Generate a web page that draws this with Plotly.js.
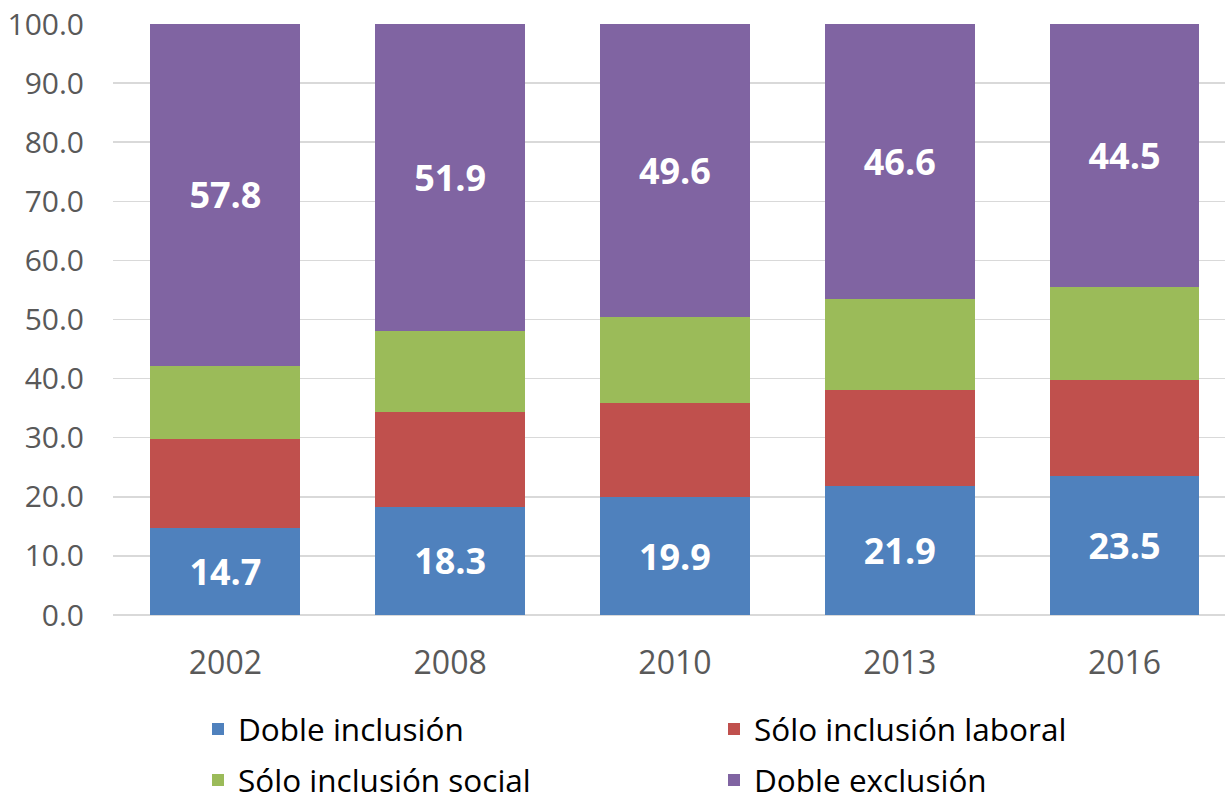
<!DOCTYPE html>
<html>
<head>
<meta charset="utf-8">
<script src="https://cdn.plot.ly/plotly-3.0.1.min.js"></script>
<style>html,body{margin:0;padding:0;background:#fff;}#chart{width:1225px;height:805px;}</style>
</head>
<body>
<div id="chart"></div>
<script>
const years = ["2002", "2008", "2010", "2013", "2016"];
const dobleInclusion = [14.7, 18.3, 19.9, 21.9, 23.5];
const soloLaboral = [15.0, 16.0, 16.0, 16.2, 16.3];
const soloSocial = [12.5, 13.8, 14.5, 15.3, 15.7];
const dobleExclusion = [57.8, 51.9, 49.6, 46.6, 44.5];
const seriesNames = ["Doble inclusión", "Sólo inclusión laboral", "Sólo inclusión social", "Doble exclusión"];
const colors = ["#4F81BD", "#C0504D", "#9BBB59", "#8064A2"];

const FONT = "Open Sans, Noto Sans, sans-serif";
const labelFont = {family: FONT, size: 36, color: "#ffffff", weight: 700};

function bar(y, i, labels, legendId) {
  const t = {
    type: "bar", x: years, y: y, name: seriesNames[i],
    marker: {color: colors[i], line: {width: 0}},
    width: 0.667, legend: legendId, hoverinfo: "y+name"
  };
  if (labels) {
    t.text = y.map(v => v.toFixed(1));
    t.texttemplate = "<b>%{text}</b>";
    t.textposition = "inside";
    t.insidetextanchor = "middle";
    t.textfont = labelFont;
    t.insidetextfont = labelFont;
    t.textangle = 0;
  } else {
    t.textposition = "none";
  }
  return t;
}

const data = [
  bar(dobleInclusion, 0, true, "legend"),
  bar(soloLaboral, 1, false, "legend2"),
  bar(soloSocial, 2, false, "legend3"),
  bar(dobleExclusion, 3, true, "legend4")
];

function leg(xpx, ypx) {
  return {
    orientation: "h", xref: "container", yref: "container",
    xanchor: "left", yanchor: "middle",
    x: xpx / 1225, y: 1 - ypx / 805,
    font: {family: FONT, size: 31.5, color: "#000000"},
    bgcolor: "rgba(0,0,0,0)", itemclick: false
  };
}

const layout = {
  width: 1225, height: 805,
  margin: {l: 113, r: 0, t: 24, b: 190},
  paper_bgcolor: "#ffffff", plot_bgcolor: "#ffffff",
  barmode: "stack",
  showlegend: true,
  legend: leg(198, 729),
  legend2: leg(714, 729),
  legend3: leg(198, 780),
  legend4: leg(714, 780),
  xaxis: {
    type: "category", range: [-0.5, 4.447],
    showgrid: false, zeroline: false, showline: false,
    ticks: "outside", ticklen: 20, tickcolor: "rgba(0,0,0,0)",
    tickfont: {family: FONT, size: 32, color: "#595959"},
    fixedrange: true
  },
  yaxis: {
    range: [0, 100], dtick: 10, tickformat: ".1f",
    showgrid: true, gridcolor: "#d9d9d9", gridwidth: 1.5,
    zeroline: true, zerolinecolor: "#d9d9d9", zerolinewidth: 1.5,
    showline: false,
    ticks: "outside", ticklen: 22, tickcolor: "rgba(0,0,0,0)",
    tickfont: {family: FONT, size: 30, color: "#595959"},
    fixedrange: true
  }
};

Plotly.newPlot("chart", data, layout, {displayModeBar: false, staticPlot: true});
</script>
</body>
</html>
